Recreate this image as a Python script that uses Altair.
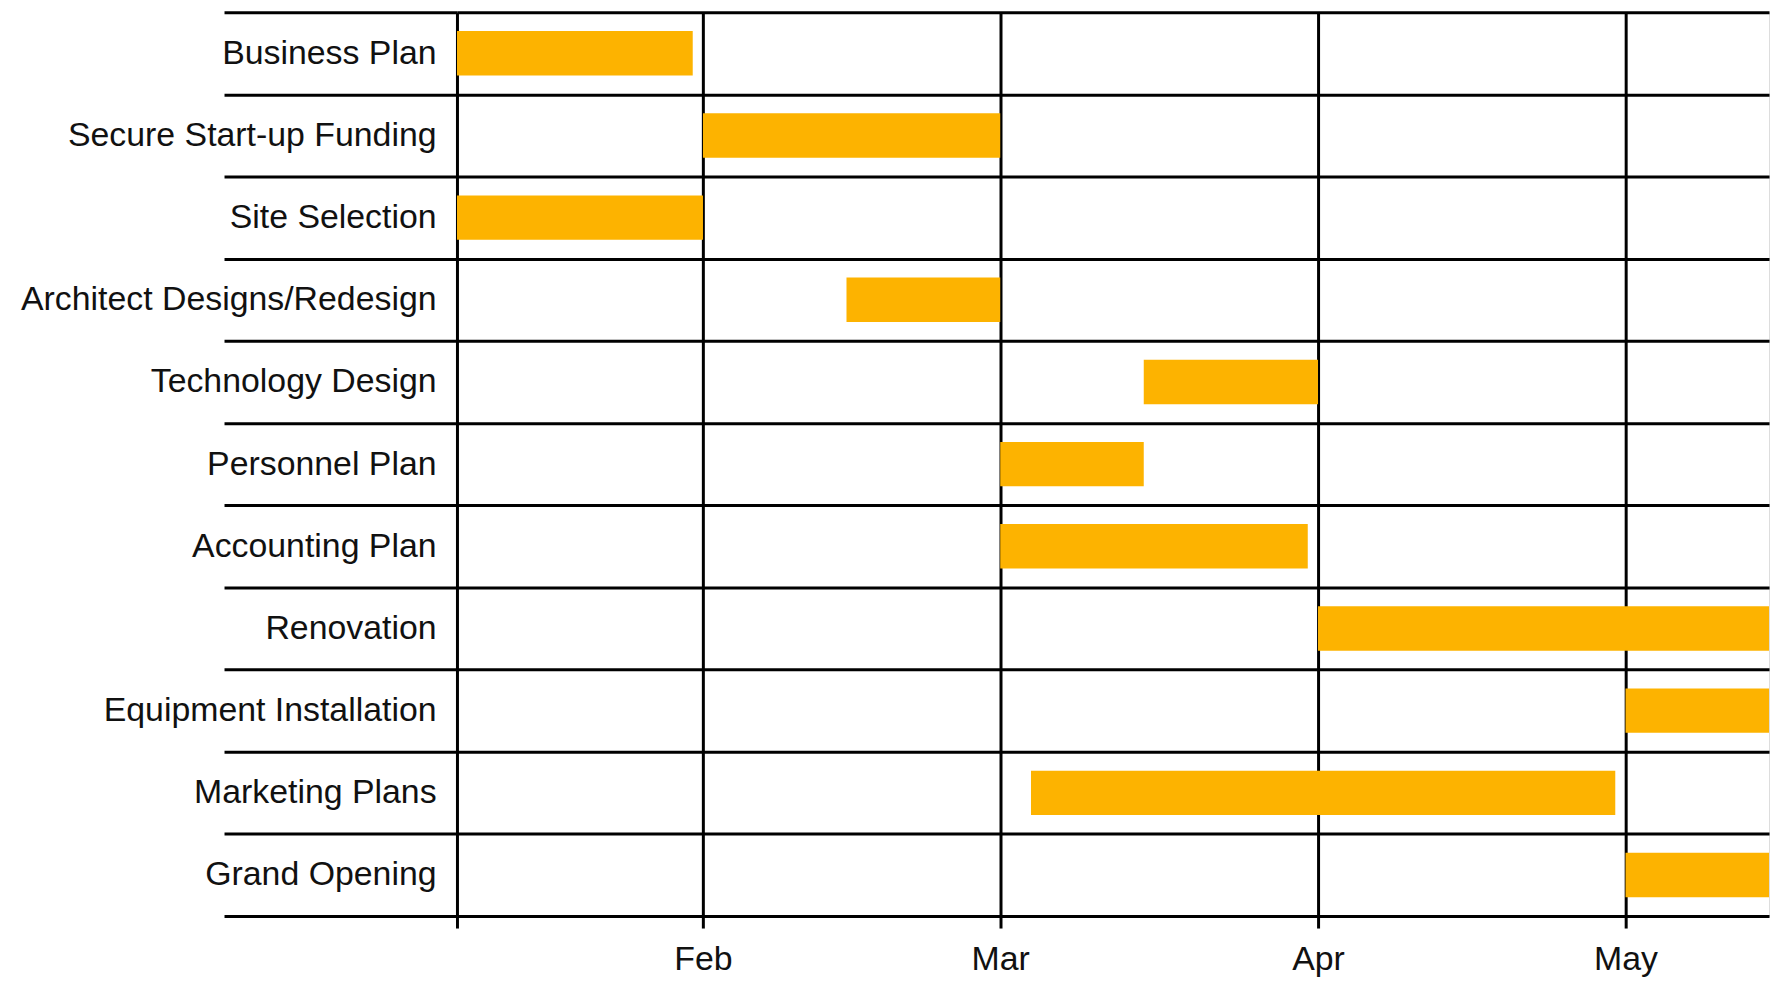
import altair as alt
import pandas as pd

tasks = ["Business Plan", "Secure Start-up Funding", "Site Selection",
         "Architect Designs/Redesign", "Technology Design", "Personnel Plan",
         "Accounting Plan", "Renovation", "Equipment Installation",
         "Marketing Plans", "Grand Opening"]
starts = ["2008-01-08", "2008-02-01", "2008-01-08", "2008-02-15", "2008-03-15",
          "2008-03-01", "2008-03-01", "2008-04-01", "2008-05-01", "2008-03-04",
          "2008-05-01"]
ends = ["2008-01-31", "2008-03-01", "2008-02-01", "2008-03-01", "2008-04-01",
        "2008-03-15", "2008-03-31", "2008-05-15", "2008-05-15", "2008-04-30",
        "2008-05-15"]

domain_dates = [(2008, 1, 8), (2008, 5, 15)]
tick_dates = [(2008, 1, 8), (2008, 2, 1), (2008, 3, 1), (2008, 4, 1), (2008, 5, 1)]

df = pd.DataFrame({"task": tasks, "start": starts, "end": ends})

x_domain = [alt.DateTime(year=y, month=m, date=d, utc=True) for y, m, d in domain_dates]
tick_vals = [alt.DateTime(year=y, month=m, date=d, utc=True) for y, m, d in tick_dates]

FONT = "Liberation Sans"
LINE_W = 3

bars = alt.Chart(df).mark_bar(
    color="#FDB300",
    height=alt.RelativeBandSize(band=0.54),
    clip=True,
).encode(
    y=alt.Y(
        "task:N",
        sort=tasks,
        title=None,
        scale=alt.Scale(paddingInner=0, paddingOuter=0),
        axis=alt.Axis(
            domain=False,
            grid=True,
            gridColor="black",
            gridWidth=LINE_W,
            gridOpacity=1,
            ticks=True,
            tickBand="extent",
            tickSize=234,
            tickColor="black",
            tickWidth=LINE_W,
            labelPadding=-213,
            labelFont=FONT,
            labelFontSize=34,
            labelColor="#111111",
            labelLimit=0,
        ),
    ),
    x=alt.X(
        "start:T",
        title=None,
        scale=alt.Scale(type="utc", domain=x_domain),
        axis=alt.Axis(
            values=tick_vals,
            labelExpr="utcdate(datum.value) == 1 ? utcFormat(datum.value, '%b') : ''",
            domain=False,
            grid=True,
            gridColor="black",
            gridWidth=LINE_W,
            gridOpacity=1,
            ticks=True,
            tickSize=12,
            tickColor="black",
            tickWidth=LINE_W,
            labelPadding=15,
            labelFont=FONT,
            labelFontSize=34,
            labelColor="#111111",
            labelFlush=False,
        ),
    ),
    x2="end:T",
).properties(
    width=1318,
    height=908,
    autosize=alt.AutoSizeParams(type="none"),
    padding={"left": 451, "top": 2, "right": 6, "bottom": 62},
).configure_view(
    stroke="black",
    strokeWidth=LINE_W,
).configure(background="white")

bars.save("out.html", embed_options={"renderer": "svg", "actions": False})
